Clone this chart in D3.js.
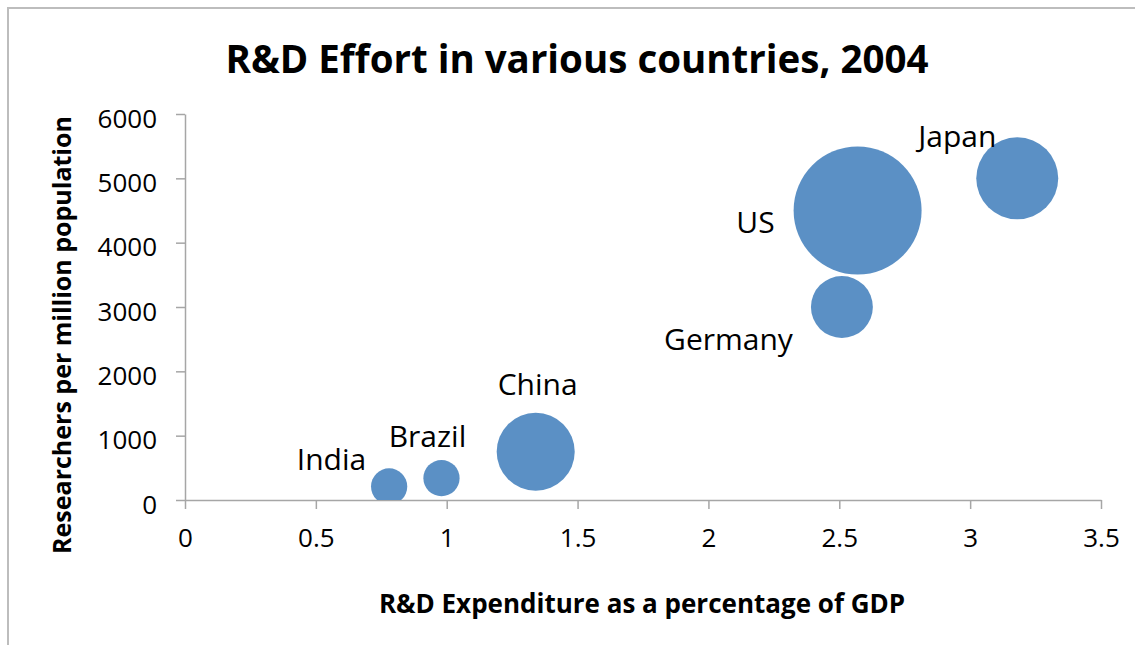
<!DOCTYPE html>
<html>
<head>
    <script src="https://cdnjs.cloudflare.com/ajax/libs/d3/7.8.5/d3.min.js"></script>
    <style>
        body { margin: 0; background: #fff; }
        text { font-family: "Open Sans", sans-serif; fill: #000; }
        .axis path, .axis line { stroke: #a6a6a6; stroke-width: 1.5px; }
        .axis text { font-size: 26px; }
    </style>
</head>
<body>
    <div id="chart"></div>
    <script>
        const width = 1135, height = 645;

        // data
        const countries = ["India", "Brazil", "China", "Germany", "US", "Japan"];
        const rdShareGdp = [0.78, 0.98, 1.34, 2.51, 2.57, 3.18];
        const researchersPerMillion = [210, 340, 750, 3000, 4500, 5000];
        const rdSpend = [25, 25, 116, 73, 312, 128];   // bubble size
        const xTicks = [0, 0.5, 1, 1.5, 2, 2.5, 3, 3.5];
        const yTicks = [0, 1000, 2000, 3000, 4000, 5000, 6000];

        // where each data label sits relative to its bubble (dx, dy, anchor)
        const labelPos = {
            India: [-23, -16, "end"],
            Brazil: [-14, -31, "middle"],
            China: [2, -57, "middle"],
            Germany: [-49, 43, "end"],
            US: [-83, 22, "end"],
            Japan: [-60, -31, "middle"]
        };

        const plot = { left: 185, right: 1101, top: 114, bottom: 500 };

        const svg = d3.select("#chart").append("svg")
            .attr("width", width).attr("height", height);

        // outer chart frame
        svg.append("rect")
            .attr("x", 8).attr("y", 8)
            .attr("width", width + 20).attr("height", height + 20)
            .attr("fill", "none")
            .attr("stroke", "#bdbdbd")
            .attr("stroke-width", 2);

        const x = d3.scaleLinear().domain([0, 3.5]).range([plot.left, plot.right]);
        const y = d3.scaleLinear().domain([0, 6000]).range([plot.bottom, plot.top]);
        const r = d3.scaleSqrt().domain([0, d3.max(rdSpend)]).range([0, 64]);

        svg.append("defs").append("clipPath").attr("id", "plotclip")
            .append("rect")
            .attr("x", plot.left).attr("y", 0)
            .attr("width", plot.right - plot.left + 40)
            .attr("height", plot.bottom);

        // axes
        const xAxis = svg.append("g")
            .attr("class", "axis")
            .attr("transform", `translate(0,${plot.bottom})`)
            .call(d3.axisBottom(x).tickValues(xTicks).tickSize(9).tickSizeOuter(0)
                .tickFormat(d => d));
        xAxis.selectAll("text").attr("y", 29).attr("dy", "0.71em");

        const yAxis = svg.append("g")
            .attr("class", "axis")
            .attr("transform", `translate(${plot.left},0)`)
            .call(d3.axisLeft(y).tickValues(yTicks).tickSize(9).tickSizeOuter(0)
                .tickFormat(d => d));
        yAxis.selectAll("text").attr("x", -28).attr("dy", "0.5em");

        // bubbles
        const points = countries.map((c, i) => ({
            name: c, gx: rdShareGdp[i], ry: researchersPerMillion[i], size: rdSpend[i]
        }));

        svg.append("g")
            .attr("clip-path", "url(#plotclip)")
            .selectAll("circle")
            .data(points)
            .enter().append("circle")
            .attr("cx", d => x(d.gx))
            .attr("cy", d => y(d.ry))
            .attr("r", d => r(d.size))
            .attr("fill", "#5b90c5");

        svg.append("g")
            .selectAll("text")
            .data(points)
            .enter().append("text")
            .attr("x", d => x(d.gx) + labelPos[d.name][0])
            .attr("y", d => y(d.ry) + labelPos[d.name][1])
            .attr("text-anchor", d => labelPos[d.name][2])
            .style("font-size", "30px")
            .text(d => d.name);

        // titles
        svg.append("text")
            .attr("x", 577).attr("y", 73)
            .attr("text-anchor", "middle")
            .style("font-size", "38.5px")
            .style("font-weight", "bold")
            .text("R&D Effort in various countries, 2004");

        svg.append("text")
            .attr("x", 642).attr("y", 613)
            .attr("text-anchor", "middle")
            .style("font-size", "26px")
            .style("font-weight", "bold")
            .text("R&D Expenditure as a percentage of GDP");

        svg.append("text")
            .attr("transform", "translate(71,335) rotate(-90)")
            .attr("text-anchor", "middle")
            .style("font-size", "25px")
            .style("font-weight", "bold")
            .text("Researchers per million population");
    </script>
</body>
</html>
